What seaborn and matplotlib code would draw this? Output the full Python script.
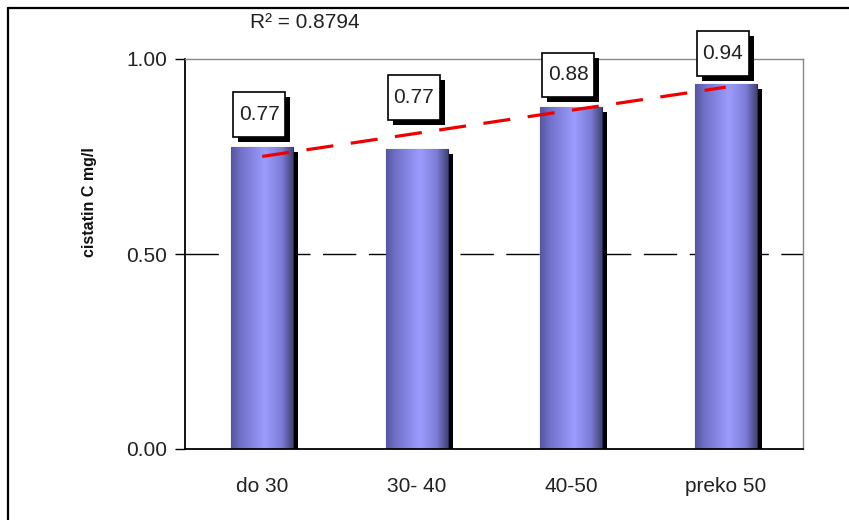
import numpy as np
import matplotlib
matplotlib.use("Agg")
import matplotlib.pyplot as plt
import matplotlib.patheffects as pe
from matplotlib.path import Path
from matplotlib.colors import LinearSegmentedColormap
from matplotlib.lines import Line2D
import seaborn as sns

# ---- data ----
categories = ["do 30", "30- 40", "40-50", "preko 50"]
values = [0.774, 0.770, 0.876, 0.936]
yticks = [0.0, 0.5, 1.0]
ytick_labels = ["0.00", "0.50", "1.00"]
r2_text = "R\u00b2 = 0.8794"
ylabel = "cistatin C mg/l"

# ---- style ----
sns.set_style("white")
plt.rcParams["font.family"] = ["Liberation Sans", "DejaVu Sans"]

fig = plt.figure(figsize=(8.49, 5.20), dpi=100)
ax = fig.add_axes([185 / 849, 71 / 520, 618 / 849, 390 / 520])

sns.barplot(x=categories, y=values, color="#8888ee", width=0.40,
            ax=ax, zorder=1, edgecolor="#2a2a5a", linewidth=0.8)

ax.set_xlim(-0.5, len(categories) - 0.5)
ax.set_ylim(0, 1.0)

# gradient fill + shadow on bars
cmap = LinearSegmentedColormap.from_list(
    "cyl", [(0.0, "#55559f"), (0.15, "#7070c8"), (0.55, "#9c9cff"),
            (0.82, "#7c7cd6"), (1.0, "#434378")])
grad = np.linspace(0, 1, 256).reshape(1, -1)
for p in ax.patches:
    p.set_path_effects([pe.SimplePatchShadow(offset=(3.8, -3.6), shadow_rgbFace="black", alpha=1.0),
                        pe.Normal()])
    x0, w, h = p.get_x(), p.get_width(), p.get_height()
    im = ax.imshow(grad, cmap=cmap, extent=[x0, x0 + w, 0, h], aspect="auto",
                   zorder=1.5, interpolation="bilinear")
    im.set_clip_path(p)
ax.set_xlim(-0.5, len(categories) - 0.5)
ax.set_ylim(0, 1.0)

# dashed reference line at 0.5
ax.axhline(0.5, color="black", lw=1.0, dashes=(24, 9), zorder=0.5)

# linear trend
xs = np.arange(len(values))
coef = np.polyfit(xs, values, 1)
ax.plot(xs, np.polyval(coef, xs), color="#ee0000", lw=2.3, dashes=(8.5, 5.5),
        zorder=3, solid_capstyle="butt", dash_capstyle="butt")


# value labels in boxes
def padded_box(x0, y0, width, height, mutation_size):
    px = 0.26 * mutation_size
    py = 0.62 * mutation_size
    verts = [(x0 - px, y0 - py), (x0 + width + px, y0 - py),
             (x0 + width + px, y0 + height + py), (x0 - px, y0 + height + py),
             (x0 - px, y0 - py)]
    return Path(verts, closed=True)


fs_box = 15
gaps = [10, 29, 10, 8]
for i, (p, v) in enumerate(zip(ax.patches, values)):
    cx = p.get_x() + p.get_width() / 2
    t = ax.annotate(f"{v:.2f}", xy=(cx, p.get_height()),
                    xytext=(-3, gaps[i] + 0.62 * fs_box * 100 / 72),
                    textcoords="offset pixels", ha="center", va="bottom",
                    fontsize=fs_box, color="#222222", zorder=5,
                    bbox=dict(boxstyle=padded_box, fc="white", ec="black", lw=1.2))
    t.get_bbox_patch().set_path_effects(
        [pe.SimplePatchShadow(offset=(3.6, -3.6), shadow_rgbFace="black", alpha=1.0), pe.Normal()])

# axes styling
ax.set_yticks(yticks)
ax.set_yticklabels(ytick_labels)
ax.set_xticks(np.arange(-0.5, len(categories)), labels=[""] * (len(categories) + 1))
ax.set_xticks(xs, labels=categories, minor=True)
ax.tick_params(axis="x", which="major", direction="out", length=6, width=1, color="black")
ax.tick_params(axis="x", which="minor", length=0, pad=20, labelsize=15, labelcolor="#222222")
ax.tick_params(axis="y", direction="out", length=7, width=1, color="black", pad=6,
               labelsize=15, labelcolor="#222222", left=True)
ax.set_xlabel("")
for s in ["left", "bottom"]:
    ax.spines[s].set_color("black")
    ax.spines[s].set_linewidth(1.3)
for s in ["top", "right"]:
    ax.spines[s].set_color("#888888")
    ax.spines[s].set_linewidth(1.0)
ax.grid(False)

ax.set_ylabel(ylabel, fontsize=11.5, fontweight="bold", color="#111111")
ax.yaxis.set_label_coords(-0.142, 0.633)

fig.text(305 / 849, 1 - 22 / 520, r2_text, ha="center", va="center", fontsize=15, color="#222222")

# outer frame (top and left visible)
fig.add_artist(Line2D([8 / 849, 1.0], [1 - 8 / 520, 1 - 8 / 520], color="black", lw=1.6))
fig.add_artist(Line2D([8 / 849, 8 / 849], [0.0, 1 - 8 / 520], color="black", lw=1.6))

fig.savefig("out.png", dpi=100)
